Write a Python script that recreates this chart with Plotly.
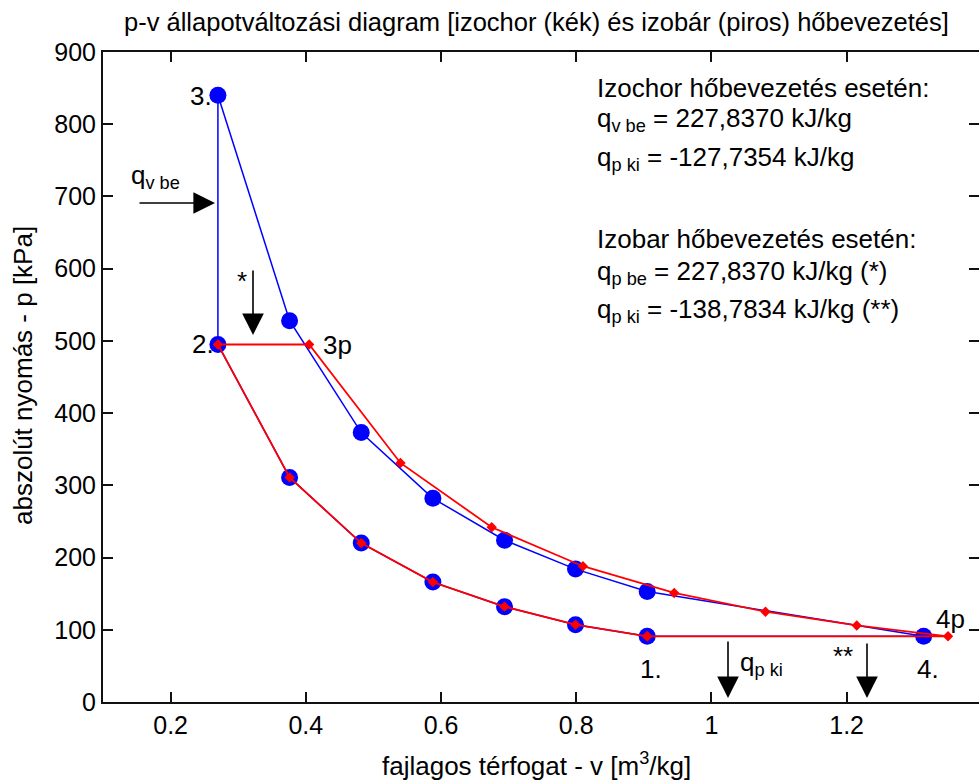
import plotly.graph_objects as go

# ---- data ----
# compression 1 -> 2 (shared by both cycles), listed from 2 to 1
v_comp = [0.270, 0.376, 0.482, 0.588, 0.694, 0.799, 0.905]
p_comp = [495, 311, 220, 166, 132, 107, 91]
# isochoric cycle: expansion 3 -> 4
v_exp_v = [0.270, 0.376, 0.482, 0.588, 0.694, 0.799, 0.905, 1.314]
p_exp_v = [840, 528, 373, 282, 224, 184, 153, 91]
# isobaric cycle: expansion 3p -> 4p
v_exp_p = [0.405, 0.540, 0.675, 0.810, 0.945, 1.080, 1.215, 1.350]
p_exp_p = [495, 331, 242, 188, 151, 125, 106, 91]

x_ticks = [0.2, 0.4, 0.6, 0.8, 1.0, 1.2]
x_tick_labels = ["0.2", "0.4", "0.6", "0.8", "1", "1.2"]
y_ticks = [0, 100, 200, 300, 400, 500, 600, 700, 800, 900]

title_text = "p-v állapotváltozási diagram [izochor (kék) és izobár (piros) hőbevezetés]"
x_title = "fajlagos térfogat - v [m<sup>3</sup>/kg]"
y_title = "abszolút nyomás - p [kPa]"
info_lines = [
    "Izochor hőbevezetés esetén:",
    "q<sub>v be</sub> = 227,8370 kJ/kg",
    "q<sub>p ki</sub> = -127,7354 kJ/kg",
    "Izobar hőbevezetés esetén:",
    "q<sub>p be</sub> = 227,8370 kJ/kg (*)",
    "q<sub>p ki</sub> = -138,7834 kJ/kg (**)",
]

# ---- layout geometry (pixels) ----
W, H = 979, 782
L, R, T, B = 103, 979, 52, 702
XMIN = 0.1
XMAX = 0.1 + (R - 103.4) / 675.7
FONT = "Liberation Sans, Arial, sans-serif"


def px(x):
    return (x - L) / (R - L)


def py(y):
    return (B - y) / (B - T)


# blue (isochoric) cycle path: 1 -> 2 -> 3 -> ... -> 4 -> 1
v_blue = v_comp[::-1] + v_exp_v + [v_comp[-1]]
p_blue = p_comp[::-1] + p_exp_v + [p_comp[-1]]
blue_marker_v = v_comp + v_exp_v
blue_marker_p = p_comp + p_exp_v

# red (isobaric) cycle path: 1 -> 2 -> 3p -> ... -> 4p -> 1
v_red = v_comp[::-1] + v_exp_p + [v_comp[-1]]
p_red = p_comp[::-1] + p_exp_p + [p_comp[-1]]

fig = go.Figure()
fig.add_trace(go.Scatter(x=v_blue, y=p_blue, mode="lines",
                         line=dict(color="#0000ff", width=1.5),
                         hoverinfo="skip", showlegend=False))
fig.add_trace(go.Scatter(x=blue_marker_v, y=blue_marker_p, mode="markers",
                         marker=dict(color="#0000ff", size=17, symbol="circle"),
                         showlegend=False))
fig.add_trace(go.Scatter(x=v_red, y=p_red, mode="lines+markers",
                         line=dict(color="#ff0000", width=1.8),
                         marker=dict(color="#ff0000", size=8, symbol="diamond"),
                         showlegend=False))
# invisible trace to activate right-side tick axis
fig.add_trace(go.Scatter(x=[XMIN], y=[0], yaxis="y2", mode="markers",
                         marker=dict(opacity=0), hoverinfo="skip", showlegend=False))

ann = []
tf = dict(family=FONT, size=26, color="black")

# title and axis titles
ann.append(dict(text=title_text, x=px(536), y=py(22), xref="paper", yref="paper",
                showarrow=False, font=dict(family=FONT, size=25.5, color="black"),
                xanchor="center", yanchor="middle"))
ann.append(dict(text=x_title, x=px(536), y=py(764), xref="paper", yref="paper",
                showarrow=False, font=tf, xanchor="center", yanchor="middle"))
ann.append(dict(text=y_title, x=px(23), y=py(376), xref="paper", yref="paper",
                showarrow=False, font=tf, xanchor="center", yanchor="middle",
                textangle=-90))

# info text block
info_y = [88, 119, 158, 239, 272, 310]
for t, yy in zip(info_lines, info_y):
    ann.append(dict(text=t, x=px(595), y=py(yy), xref="paper", yref="paper",
                    showarrow=False, font=tf, xanchor="left", yanchor="middle"))

# point labels
labels = [
    ("3.", 214, 96, "right"),
    ("2.", 216, 344, "right"),
    ("3p", 321, 345, "left"),
    ("1.", 638, 669, "left"),
    ("4.", 915, 669, "left"),
    ("4p", 934, 619, "left"),
    ("q<sub>v be</sub>", 129, 176, "left"),
    ("*", 235, 281, "left"),
    ("q<sub>p ki</sub>", 738, 663, "left"),
    ("**", 831, 656, "left"),
]
for t, xx, yy, xa in labels:
    ann.append(dict(text=t, x=px(xx), y=py(yy), xref="paper", yref="paper",
                    showarrow=False, font=tf, xanchor=xa, yanchor="middle"))

# arrows (tip, tail) in pixels
arrows = [
    ((215, 203), (138, 203)),
    ((253, 335), (253, 269)),
    ((728, 698), (728, 640)),
    ((867, 698), (867, 642)),
]
for (hx, hy), (tx, ty) in arrows:
    ann.append(dict(text="", x=px(hx), y=py(hy), xref="paper", yref="paper",
                    ax=tx - hx, ay=ty - hy, axref="pixel", ayref="pixel",
                    showarrow=True, arrowhead=2, arrowsize=2.7, arrowwidth=1.6,
                    arrowcolor="black", standoff=0, startstandoff=0))

axis_common = dict(showgrid=False, zeroline=False, ticks="inside", ticklen=10,
                   tickwidth=1.5, tickcolor="#111", linecolor="#111", linewidth=2,
                   tickfont=dict(family=FONT, size=25, color="black"))

fig.update_layout(
    width=W, height=H,
    margin=dict(l=L, r=W - R, t=T, b=H - B, pad=0),
    paper_bgcolor="white", plot_bgcolor="white",
    annotations=ann,
    xaxis=dict(range=[XMIN, XMAX], tickvals=x_ticks, ticktext=x_tick_labels,
               showline=True, mirror="ticks", **axis_common),
    yaxis=dict(range=[0, 900], tickvals=y_ticks, showline=True, mirror=False,
               **axis_common),
    yaxis2=dict(range=[0, 900], tickvals=y_ticks, overlaying="y", side="right",
                showline=False, showticklabels=False, showgrid=False, zeroline=False,
                ticks="inside", ticklen=10, tickwidth=1.5, tickcolor="#111"),
    showlegend=False,
)

fig.write_html("out.html")
